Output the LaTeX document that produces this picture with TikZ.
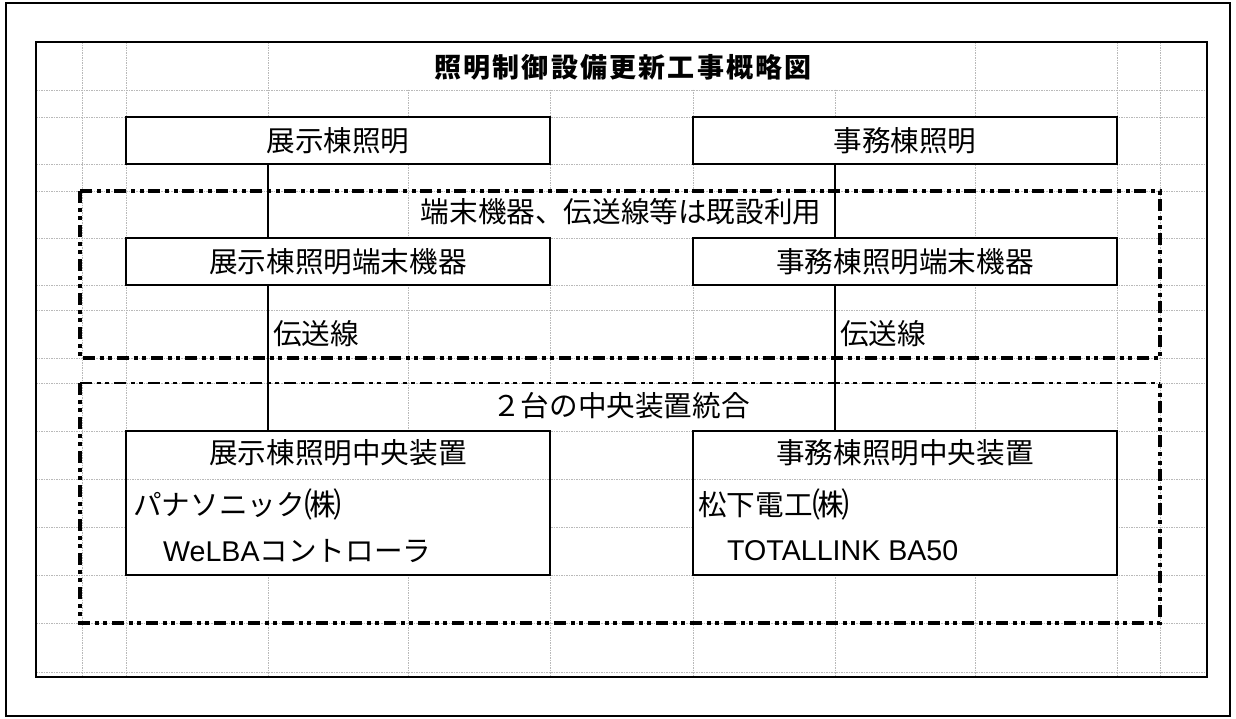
\documentclass[tikz,border=0pt]{standalone}
\usepackage{fontspec}
\newfontfamily\jp{Noto Sans CJK JP}
\newfontfamily\lat{Liberation Sans}
\newcommand{\kabu}{\raisebox{-1.5pt}{\scalebox{1.3}[1.2]{㈱}}}
\begin{document}
\begin{tikzpicture}[x=1pt,y=-1pt,
  gridln/.style={draw=gray!55, line width=0.9pt, dash pattern=on 1.5pt off 1pt},
  boxnode/.style={draw, line width=2pt, fill=white, inner sep=0pt, minimum width=424pt},
  jt/.style={font=\jp\fontsize{28.6}{30}\selectfont, inner sep=0pt},
  conn/.style={line width=2.4pt},
  ddot/.style={line width=3.8pt, dash pattern=on 12pt off 4.5pt on 4pt off 4.5pt on 4pt off 5pt},
  ddthin/.style={line width=2.4pt, dash pattern=on 12pt off 4.5pt on 4pt off 4.5pt on 4pt off 5pt},
  frameln/.style={line width=2.6pt}]
\useasboundingbox (0,0) rectangle (1236,718);
\fill[white] (0,0) rectangle (1236,718);
% spreadsheet grid
\foreach \gx in {82,126,268,408,550,693,835,975,1117,1160}
  \draw[gridln] (\gx,42) -- (\gx,677);
\foreach \gy in {90,117,164,191,238,285,310,358,383,431,479,527,575,623,672}
  \draw[gridln] (36,\gy) -- (1207,\gy);
% merged cells
\fill[white] (269,43) rectangle (974,89.4);
\fill[white] (409,191.6) rectangle (834,237.4);
\fill[white] (409,383.6) rectangle (834,430.4);
% boxes
\node[boxnode, minimum height=47pt] (b1l) at (338,140.5) {};
\node[boxnode, minimum height=47pt] (b1r) at (905,140.5) {};
\node[boxnode, minimum height=47pt] (b2l) at (338,261.5) {};
\node[boxnode, minimum height=47pt] (b2r) at (905,261.5) {};
\node[boxnode, minimum height=144pt] (b3l) at (338,503) {};
\node[boxnode, minimum height=144pt] (b3r) at (905,503) {};
\draw[gridln] (127,479) -- (549,479);
\draw[gridln] (694,479) -- (1116,479);
% connectors
\coordinate (cxl) at (268,0);
\coordinate (cxr) at (835,0);
\draw[conn] (b1l.south -| cxl) -- (b2l.north -| cxl);
\draw[conn] (b2l.south -| cxl) -- (b3l.north -| cxl);
\draw[conn] (b1r.south -| cxr) -- (b2r.north -| cxr);
\draw[conn] (b2r.south -| cxr) -- (b3r.north -| cxr);
% dash-dot regions
\draw[ddot] (80,191) rectangle (1160,358);
\draw[ddot] (80,383) -- (80,623) -- (1160,623) -- (1160,383);
\draw[ddthin] (80,383) -- (1160,383);
% frames
\draw[frameln] (6,3) rectangle (1230,716);
\draw[frameln] (36,42) rectangle (1207,677);
% texts
\node[inner sep=0pt, font=\jp\bfseries\fontsize{27}{29}\selectfont] (title) at (623,67)
  {\makebox[377pt][s]{照\hfil 明\hfil 制\hfil 御\hfil 設\hfil 備\hfil 更\hfil 新\hfil 工\hfil 事\hfil 概\hfil 略\hfil 図}};
\node[jt] (t1l) at (b1l.center) {展示棟照明};
\node[jt] (t1r) at (b1r.center) {事務棟照明};
\node[jt] (note1) at (621,212) {端末機器、伝送線等は既設利用};
\node[jt] (t2l) at (b2l.center) {展示棟照明端末機器};
\node[jt] (t2r) at (b2r.center) {事務棟照明端末機器};
\node[jt, anchor=west] (lnl) at (273,334) {伝送線};
\node[jt, anchor=west] (lnr) at (840,334) {伝送線};
\node[jt] (note2) at (621,406) {２台の中央装置統合};
\node[jt] (h3l) at (338,453) {展示棟照明中央装置};
\node[jt] (h3r) at (905,453) {事務棟照明中央装置};
\node[jt, anchor=west] (mkl) at (133,504) {パナソニック\kabu};
\node[jt, anchor=west] (prl) at (163,551) {{\lat WeLBA}コントローラ};
\node[jt, anchor=west] (mkr) at (698,504) {松下電工\kabu};
\node[jt, anchor=west] (prr) at (727,551) {{\lat TOTALLINK BA50}};
\end{tikzpicture}
\end{document}
